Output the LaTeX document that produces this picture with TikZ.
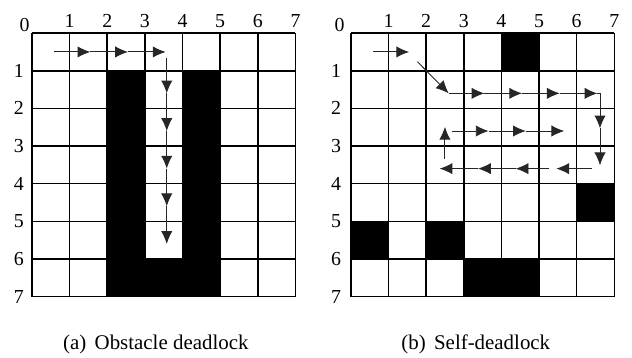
\documentclass[tikz,border=0pt]{standalone}
\usepackage{fontspec}
\setmainfont{Liberation Serif}
\usetikzlibrary{calc}
\usetikzlibrary{arrows.meta}

\tikzset{
  gridline/.style={line width=1.2pt, black},
  blocked/.style={fill=black},
  idx/.style={inner sep=0pt, font=\fontsize{15}{17}\selectfont},
  route/.style={line width=0.7pt, black!85},
  caption/.style={inner sep=0pt, font=\fontsize{15.8}{18}\selectfont},
}

\begin{document}
\begin{tikzpicture}[>={Latex[length=3.4mm,width=3mm]}, x=1cm, y=-1cm]
\useasboundingbox (-0.85,-0.88) rectangle (15.94,8.62);

% (a) obstacle deadlock
\begin{scope}
\fill[blocked] (2,1) rectangle (3,7);
\fill[blocked] (4,1) rectangle (5,7);
\fill[blocked] (3,6) rectangle (4,7);
\draw[gridline] (0,0) grid (7,7);
\node[idx, name=a_zero] at (-0.2,-0.21) {0};
\foreach \i in {1,...,7} {
  \node[idx, name=a_col_\i] at (\i,-0.33) {\i};
  \node[idx, name=a_row_\i] at (-0.35,\i) {\i};
}
% the robot's route
\coordinate (a_start) at (0.58,0.5);
\coordinate (a_h1) at (1.55,0.5);
\coordinate (a_h2) at (2.55,0.5);
\coordinate (a_h3) at (3.55,0.5);
\coordinate (a_turn) at (3.58,0.66);
\foreach \r in {1,...,5}
  \coordinate (a_v\r) at (3.58,\r+0.6);
\draw[route,->] (a_start) -- (a_h1);
\draw[route,->] (a_h1) -- (a_h2);
\draw[route,->] (a_h2) -- (a_h3);
\draw[route,->] (a_turn) -- (a_v1);
\draw[route,->] (a_v1) -- (a_v2);
\draw[route,->] (a_v2) -- (a_v3);
\draw[route,->] (a_v3) -- (a_v4);
\draw[route,->] (a_v4) -- (a_v5);
\node[caption, name=cap_a] at (3.29,8.26) {(a)\hspace{0.4em}Obstacle deadlock};
\end{scope}

% (b) self-deadlock
\begin{scope}[xshift=8.47cm]
\fill[blocked] (4,0) rectangle (5,1);
\fill[blocked] (6,4) rectangle (7,5);
\fill[blocked] (0,5) rectangle (1,6);
\fill[blocked] (2,5) rectangle (3,6);
\fill[blocked] (3,6) rectangle (5,7);
\draw[gridline] (0,0) grid (7,7);
\node[idx, name=b_zero] at (-0.3,-0.21) {0};
\foreach \i in {1,...,7} {
  \node[idx, name=b_col_\i] at (\i,-0.33) {\i};
  \node[idx, name=b_row_\i] at (-0.39,\i) {\i};
}
% the robot's route
\coordinate (b_start) at (0.6,0.5);
\coordinate (b_h1) at (1.55,0.5);
\coordinate (b_diag) at (1.77,0.76);
\coordinate (b_r1_2) at (2.6,1.6);
\coordinate (b_r1_3) at (3.55,1.6);
\coordinate (b_r1_4) at (4.55,1.6);
\coordinate (b_r1_5) at (5.55,1.6);
\coordinate (b_r1_6) at (6.55,1.6);
\coordinate (b_corner) at (6.62,1.6);
\coordinate (b_down_1) at (6.62,2.53);
\coordinate (b_down_2) at (6.62,3.51);
\coordinate (b_r3_6) at (6.42,3.6);
\coordinate (b_r3_5) at (5.46,3.6);
\coordinate (b_r3_5b) at (5.27,3.6);
\coordinate (b_r3_4) at (4.38,3.6);
\coordinate (b_r3_3) at (3.38,3.6);
\coordinate (b_r3_2) at (2.36,3.6);
\coordinate (b_up_0) at (2.5,3.35);
\coordinate (b_up_1) at (2.5,2.49);
\coordinate (b_r2_2) at (2.7,2.6);
\coordinate (b_r2_3) at (3.66,2.6);
\coordinate (b_r2_4) at (4.65,2.6);
\coordinate (b_r2_5) at (5.67,2.6);
\draw[route,->] (b_start) -- (b_h1);
\draw[route,->] (b_diag) -- (b_r1_2);
\draw[route,->] (b_r1_2) -- (b_r1_3);
\draw[route,->] (b_r1_3) -- (b_r1_4);
\draw[route,->] (b_r1_4) -- (b_r1_5);
\draw[route,->] (b_r1_5) -- (b_r1_6);
\draw[route] (b_r1_6) -- (b_corner);
\draw[route,->] (b_corner) -- (b_down_1);
\draw[route,->] (b_down_1) -- (b_down_2);
\draw[route,->] (b_r3_6) -- (b_r3_5);
\draw[route,->] (b_r3_5b) -- (b_r3_4);
\draw[route,->] (b_r3_4) -- (b_r3_3);
\draw[route,->] (b_r3_3) -- (b_r3_2);
\draw[route,->] (b_up_0) -- (b_up_1);
\draw[route,->] (b_r2_2) -- (b_r2_3);
\draw[route,->] (b_r2_3) -- (b_r2_4);
\draw[route,->] (b_r2_4) -- (b_r2_5);
\node[caption, name=cap_b] at (3.32,8.26) {(b)\hspace{0.4em}Self-deadlock};
\end{scope}
\end{tikzpicture}
\end{document}
